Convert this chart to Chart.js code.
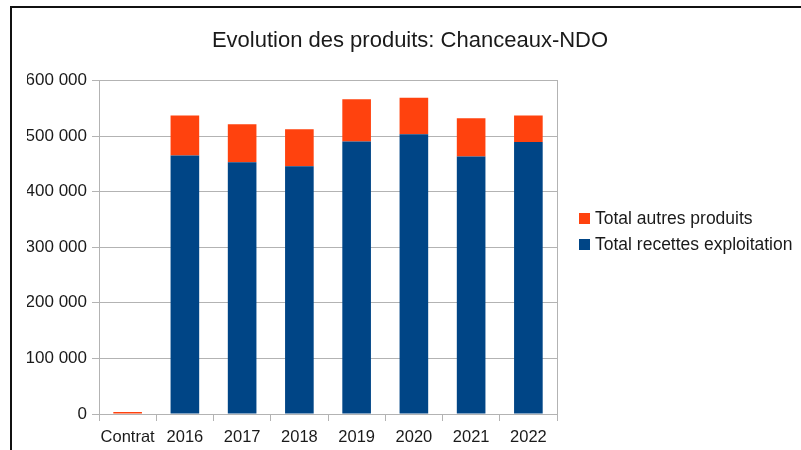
<!DOCTYPE html>
<html lang="fr">
<head>
    <meta charset="UTF-8">
    <title>Evolution des produits</title>
    <script src="https://cdn.jsdelivr.net/npm/chart.js"></script>
    <style>
        body { margin: 0; background: #fff; overflow: hidden; }
        #wrap { position: relative; width: 801px; height: 450px; }
        #frame { position: absolute; left: 10px; top: 6px; width: 800px; height: 460px;
                 border-left: 2px solid #111; border-top: 2px solid #111; }
        #chart { position: absolute; left: 0; top: 0; }
    </style>
</head>
<body>
    <div id="wrap">
        <div id="frame"></div>
        <canvas id="chart" width="801" height="450"></canvas>
    </div>

    <script>
        const categories = ['Contrat', '2016', '2017', '2018', '2019', '2020', '2021', '2022'];
        const recettesExploitation = [0, 465000, 453000, 445500, 490000, 503000, 463000, 489000];
        const autresProduits = [0, 72000, 68000, 66500, 76000, 66000, 69000, 48000];
        const yTicks = [0, 100000, 200000, 300000, 400000, 500000, 600000];

        const gridColor = '#b3b3b3';
        const textColor = '#1a1a1a';
        const font = 'Liberation Sans, Arial, sans-serif';

        function fmt(v) {
            return String(v).replace(/\B(?=(\d{3})+(?!\d))/g, ' ');
        }

        // legend drawn by hand in the space kept free by the y2 spacer axis
        const sideLegend = {
            id: 'sideLegend',
            afterDraw(chart) {
                const ctx = chart.ctx;
                const x = chart.chartArea.right + 22;
                const items = chart.data.datasets.slice().reverse();
                ctx.save();
                ctx.font = '17.5px ' + font;
                ctx.textBaseline = 'middle';
                items.forEach((ds, i) => {
                    const y = 218 + i * 26;
                    ctx.fillStyle = ds.backgroundColor;
                    ctx.fillRect(x, y - 5, 11, 11);
                    ctx.fillStyle = textColor;
                    ctx.fillText(ds.label, x + 16, y + 1);
                });
                ctx.restore();
            }
        };

        new Chart(document.getElementById('chart'), {
            type: 'bar',
            data: {
                labels: categories,
                datasets: [
                    {
                        label: 'Total recettes exploitation',
                        data: recettesExploitation,
                        backgroundColor: '#004586',
                        categoryPercentage: 1,
                        barPercentage: 0.5
                    },
                    {
                        label: 'Total autres produits',
                        data: autresProduits,
                        backgroundColor: '#ff420e',
                        categoryPercentage: 1,
                        barPercentage: 0.5,
                        minBarLength: 2
                    }
                ]
            },
            plugins: [sideLegend],
            options: {
                responsive: false,
                animation: false,
                layout: { padding: { left: 27, right: 8, top: 18, bottom: 0 } },
                plugins: {
                    title: {
                        display: true,
                        text: 'Evolution des produits: Chanceaux-NDO',
                        color: textColor,
                        font: { family: font, size: 22, weight: 'normal' },
                        padding: { top: 10, bottom: 26 }
                    },
                    legend: { display: false },
                    tooltip: { enabled: false }
                },
                scales: {
                    x: {
                        stacked: true,
                        afterFit: s => { s.height = 36; },
                        grid: { drawOnChartArea: false, color: gridColor, tickLength: 7, offset: true },
                        border: { color: gridColor },
                        ticks: { color: textColor, font: { family: font, size: 16.5 }, padding: 7, maxRotation: 0 }
                    },
                    y: {
                        stacked: true,
                        min: 0,
                        max: 600000,
                        afterBuildTicks: function(scale) {
                            scale.ticks = yTicks.map(v => ({ value: v }));
                        },
                        afterFit: s => { s.width = 72; },
                        grid: { color: gridColor, tickLength: 7 },
                        border: { color: gridColor },
                        ticks: {
                            color: textColor,
                            font: { family: font, size: 17 },
                            padding: 5,
                            callback: v => fmt(v)
                        }
                    },
                    y2: {
                        position: 'right',
                        min: 0,
                        max: 600000,
                        afterFit: s => { s.width = 236; },
                        grid: { drawOnChartArea: false, drawTicks: false },
                        border: { color: gridColor },
                        ticks: { display: false }
                    }
                }
            }
        });
    </script>
</body>
</html>
